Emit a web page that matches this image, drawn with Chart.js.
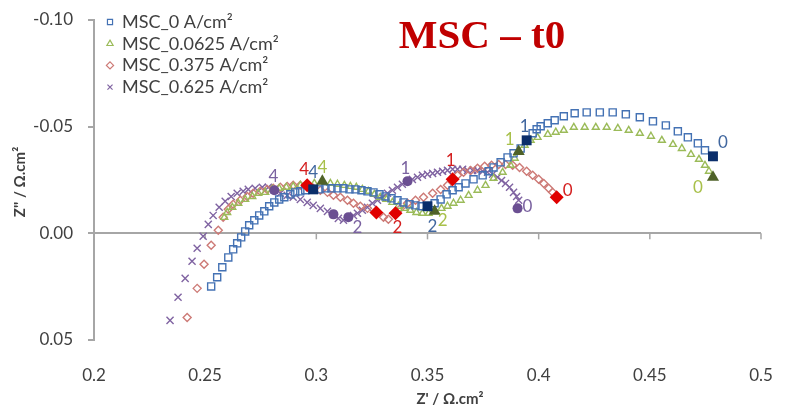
<!DOCTYPE html>
<html>
<head>
<meta charset="utf-8">
<script src="https://cdn.jsdelivr.net/npm/chart.js@4.4.1/dist/chart.umd.min.js"></script>
<style>
  html, body { margin: 0; padding: 0; background: #fff; }
  #wrap { width: 787px; height: 411px; }
</style>
</head>
<body>
<div id="wrap"><canvas id="nyquist"></canvas></div>
<script>
// Impedance spectra, Z' (real) and Z'' (imaginary), Ω.cm²
const seriesNames = ['MSC_0 A/cm²', 'MSC_0.0625 A/cm²', 'MSC_0.375 A/cm²', 'MSC_0.625 A/cm²'];

const zRe0 = [0.2527,0.2554,0.2577,0.2604,0.2626,0.2644,0.2662,0.2680,0.2698,0.2721,0.2743,0.2766,0.2788,0.2811,0.2833,0.2856,0.2883,0.2905,0.2928,0.2950,
  0.2986,0.3014,0.3041,0.3068,0.3095,0.3122,0.3149,0.3176,0.3203,0.3230,0.3257,0.3284,0.3311,0.3338,0.3365,0.3392,0.3419,0.3446,0.3473,0.3500,
  0.3532,0.3559,0.3586,0.3613,0.3640,0.3671,0.3707,0.3748,0.3775,0.3797,0.3829,0.3860,0.3887,0.3919,0.3946,
  0.3973,0.3991,0.4009,0.4041,0.4072,0.4113,0.4162,0.4216,0.4275,0.4333,0.4392,0.4455,0.4514,0.4572,0.4626,0.4671,0.4716,0.4748,0.4784];
const zIm0 = [0.0249,0.0206,0.0159,0.0113,0.0075,0.0047,0.0019,-0.0009,-0.0038,-0.0061,-0.0084,-0.0103,-0.0127,-0.0145,-0.0159,-0.0169,-0.0183,-0.0192,-0.0197,-0.0202,
  -0.0206,-0.0206,-0.0211,-0.0211,-0.0211,-0.0211,-0.0206,-0.0206,-0.0202,-0.0197,-0.0192,-0.0183,-0.0173,-0.0164,-0.0155,-0.0145,-0.0136,-0.0131,-0.0127,-0.0127,
  -0.0141,-0.0159,-0.0183,-0.0202,-0.0216,-0.0234,-0.0253,-0.0272,-0.0291,-0.0309,-0.0333,-0.0356,-0.0375,-0.0398,-0.0436,
  -0.0469,-0.0488,-0.0502,-0.0516,-0.0530,-0.0549,-0.0563,-0.0567,-0.0567,-0.0567,-0.0558,-0.0544,-0.0525,-0.0506,-0.0478,-0.0450,-0.0422,-0.0389,-0.0361];

const zRe1 = [0.2586,0.2599,0.2622,0.2649,0.2680,0.2712,0.2739,0.2770,0.2802,0.2833,0.2865,0.2896,0.2928,0.2959,0.2991,0.3027,
  0.3063,0.3095,0.3126,0.3153,0.3180,0.3207,0.3234,0.3261,0.3288,0.3315,0.3342,0.3369,0.3396,0.3423,0.3450,0.3477,0.3505,0.3532,
  0.3563,0.3590,0.3617,0.3649,0.3685,0.3725,0.3761,0.3797,0.3838,0.3874,0.3892,0.3910,
  0.3937,0.3964,0.3995,0.4041,0.4077,0.4113,0.4158,0.4207,0.4257,0.4306,0.4356,0.4405,0.4455,0.4505,0.4554,0.4604,0.4644,0.4685,0.4721,0.4748,0.4766,0.4784];
const zIm1 = [-0.0075,-0.0098,-0.0122,-0.0141,-0.0159,-0.0173,-0.0188,-0.0192,-0.0206,-0.0211,-0.0216,-0.0220,-0.0225,-0.0230,-0.0234,-0.0244,
  -0.0234,-0.0230,-0.0225,-0.0220,-0.0216,-0.0206,-0.0197,-0.0183,-0.0169,-0.0159,-0.0145,-0.0127,-0.0117,-0.0108,-0.0098,-0.0094,-0.0094,-0.0103,
  -0.0117,-0.0127,-0.0141,-0.0155,-0.0178,-0.0202,-0.0225,-0.0258,-0.0286,-0.0319,-0.0352,-0.0384,
  -0.0413,-0.0436,-0.0450,-0.0464,-0.0474,-0.0483,-0.0497,-0.0497,-0.0497,-0.0497,-0.0492,-0.0483,-0.0469,-0.0455,-0.0436,-0.0417,-0.0398,-0.0370,-0.0347,-0.0319,-0.0291,-0.0263];

const zRe2 = [0.2419,0.2464,0.2495,0.2527,0.2559,0.2581,0.2604,0.2626,0.2658,0.2689,0.2716,0.2748,0.2779,0.2806,0.2838,0.2869,0.2896,0.2928,0.2959,
  0.2986,0.3018,0.3050,0.3077,0.3108,0.3140,0.3167,0.3198,0.3230,0.3270,0.3302,0.3324,0.3356,
  0.3378,0.3410,0.3446,0.3482,0.3523,0.3559,0.3590,0.3613,
  0.3635,0.3662,0.3694,0.3725,0.3757,0.3788,0.3820,0.3851,0.3883,0.3914,0.3946,0.3973,0.4000,0.4023,0.4045,0.4063,0.4081];
const zIm2 = [0.0394,0.0258,0.0145,0.0056,-0.0014,-0.0075,-0.0113,-0.0136,-0.0155,-0.0173,-0.0188,-0.0197,-0.0206,-0.0211,-0.0216,-0.0220,-0.0225,-0.0225,-0.0225,
  -0.0211,-0.0202,-0.0192,-0.0178,-0.0169,-0.0155,-0.0141,-0.0127,-0.0117,-0.0098,-0.0075,-0.0066,-0.0094,
  -0.0117,-0.0141,-0.0155,-0.0169,-0.0188,-0.0206,-0.0225,-0.0253,
  -0.0272,-0.0286,-0.0295,-0.0305,-0.0314,-0.0319,-0.0323,-0.0323,-0.0319,-0.0309,-0.0291,-0.0272,-0.0253,-0.0234,-0.0211,-0.0192,-0.0169];

const zRe3 = [0.2342,0.2378,0.2410,0.2441,0.2464,0.2491,0.2514,0.2536,0.2563,0.2590,0.2617,0.2644,0.2671,0.2694,0.2725,0.2757,0.2784,0.2811,
  0.2838,0.2869,0.2896,0.2928,0.2959,0.2986,0.3018,0.3050,0.3077,0.3099,0.3122,0.3144,0.3167,0.3185,0.3207,0.3230,0.3252,0.3275,0.3297,
  0.3320,0.3342,0.3365,0.3387,0.3410,0.3432,0.3455,0.3477,0.3500,0.3523,0.3545,0.3568,0.3590,0.3613,0.3635,
  0.3658,0.3680,0.3703,0.3725,0.3748,0.3770,0.3793,0.3815,0.3833,0.3851,0.3869,0.3887,0.3901,0.3910,0.3905];
const zIm3 = [0.0408,0.0300,0.0211,0.0131,0.0070,0.0014,-0.0042,-0.0084,-0.0122,-0.0150,-0.0173,-0.0188,-0.0197,-0.0206,-0.0211,-0.0216,-0.0216,-0.0202,
  -0.0188,-0.0178,-0.0169,-0.0159,-0.0145,-0.0131,-0.0117,-0.0103,-0.0089,-0.0070,-0.0061,-0.0075,-0.0084,-0.0094,-0.0108,-0.0122,-0.0141,-0.0155,-0.0169,
  -0.0188,-0.0202,-0.0216,-0.0230,-0.0244,-0.0253,-0.0263,-0.0272,-0.0277,-0.0281,-0.0286,-0.0291,-0.0295,-0.0300,-0.0300,
  -0.0300,-0.0295,-0.0295,-0.0295,-0.0291,-0.0286,-0.0277,-0.0263,-0.0248,-0.0234,-0.0216,-0.0192,-0.0173,-0.0155,-0.0117];

// frequency decade markers (log10 f) on each spectrum
const markRe0 = [0.2986, 0.3500, 0.3946, 0.4784];
const markIm0 = [-0.0206, -0.0127, -0.0436, -0.0361];
const markTag0 = ['4', '2', '1', '0'];
const markRe1 = [0.3027, 0.3532, 0.3910, 0.4784];
const markIm1 = [-0.0244, -0.0103, -0.0384, -0.0263];
const markTag1 = ['4', '2', '1', '0'];
const markRe2 = [0.2959, 0.3270, 0.3356, 0.3613, 0.4081];
const markIm2 = [-0.0225, -0.0098, -0.0094, -0.0253, -0.0169];
const markTag2 = ['4', '', '2', '1', '0'];
const markRe3 = [0.2811, 0.3077, 0.3144, 0.3410, 0.3905];
const markIm3 = [-0.0202, -0.0089, -0.0075, -0.0244, -0.0117];
const markTag3 = ['4', '', '2', '1', '0'];

const xTicks = [0.2, 0.25, 0.3, 0.35, 0.4, 0.45, 0.5];
const yTicks = [-0.10, -0.05, 0.00, 0.05];

const zRe = [zRe0, zRe1, zRe2, zRe3];
const zIm = [zIm0, zIm1, zIm2, zIm3];
const markRe = [markRe0, markRe1, markRe2, markRe3];
const markIm = [markIm0, markIm1, markIm2, markIm3];
const markTag = [markTag0, markTag1, markTag2, markTag3];

const FONT = 'Lato, "Open Sans", sans-serif';
const TEXT = '#404040';
const AXIS = '#a6a6a6';

const looks = [
  { style: 'rect',     r: 5,   color: '#4472b4', markStyle: 'rect',     markR: 7, markColor: '#0b2e6b', tagColor: '#41679f',
    tagOff: { '4': [0, -17], '2': [5, 20], '1': [-2, -14], '0': [10, -14] } },
  { style: 'triangle', r: 4,   color: '#9bbb59', markStyle: 'triangle', markR: 7, markColor: '#4f6228', tagColor: '#a8c04a',
    tagOff: { '4': [0, -14], '2': [8, 9], '1': [-9, -12], '0': [-15, 10] } },
  { style: 'rectRot',  r: 4,   color: '#cd7a76', markStyle: 'rectRot',  markR: 7, markColor: '#e00000', tagColor: '#d42020',
    tagOff: { '4': [-3, -16], '2': [2, 14], '1': [-2, -19], '0': [11, -7] } },
  { style: 'crossRot', r: 5,   color: '#8064a2', markStyle: 'circle',   markR: 5, markColor: '#6b4f92', tagColor: '#7a62a0',
    tagOff: { '4': [-1, -14], '2': [9, 10], '1': [-2, -13], '0': [10, -2] } }
];

const datasets = [];
looks.forEach((lk, k) => {
  datasets.push({
    label: seriesNames[k],
    data: zRe[k].map((x, i) => ({ x: x, y: zIm[k][i] })),
    showLine: false,
    pointStyle: lk.style,
    pointRadius: lk.r,
    pointBorderWidth: 1.4,
    pointBorderColor: lk.color,
    pointBackgroundColor: 'rgba(255,255,255,0)',
    order: 10 + k
  });
});
looks.forEach((lk, k) => {
  datasets.push({
    label: seriesNames[k] + ' f',
    data: markRe[k].map((x, i) => ({ x: x, y: markIm[k][i] })),
    tags: markTag[k],
    look: lk,
    showLine: false,
    pointStyle: lk.markStyle,
    pointRadius: lk.markR,
    pointBorderWidth: 0,
    pointBackgroundColor: lk.markColor,
    order: k
  });
});

// scales keep no extra room for overhanging tick labels
function noOverhang(s) {
  s.paddingLeft = 0;
  s.paddingRight = 0;
  s.paddingTop = 0;
  s.paddingBottom = 0;
}

// zero line ticks, legend, titles and decade tags
const decor = {
  id: 'decor',
  beforeDatasetsDraw(chart) {
    const { ctx, scales: { x, y } } = chart;
    const y0 = y.getPixelForValue(0);
    ctx.save();
    ctx.strokeStyle = AXIS;
    ctx.lineWidth = 1.5;
    xTicks.forEach(v => {
      const px = x.getPixelForValue(v);
      ctx.beginPath();
      ctx.moveTo(px, y0);
      ctx.lineTo(px, y0 + 6);
      ctx.stroke();
    });
    ctx.restore();
  },
  afterDatasetsDraw(chart) {
    const ctx = chart.ctx;
    ctx.save();
    ctx.textAlign = 'center';
    ctx.textBaseline = 'middle';
    ctx.font = '17px ' + FONT;
    chart.data.datasets.forEach((ds, di) => {
      if (!ds.tags) return;
      const meta = chart.getDatasetMeta(di);
      ctx.fillStyle = ds.look.tagColor;
      meta.data.forEach((el, i) => {
        const t = ds.tags[i];
        if (!t) return;
        const off = ds.look.tagOff[t];
        ctx.fillText(t, el.x + off[0], el.y + off[1]);
      });
    });
    ctx.restore();
  },
  afterDraw(chart) {
    const ctx = chart.ctx;
    ctx.save();
    // legend
    ctx.font = '18px ' + FONT;
    ctx.textBaseline = 'middle';
    ctx.textAlign = 'left';
    looks.forEach((lk, k) => {
      const yy = 22 + k * 21.7;
      ctx.save();
      ctx.strokeStyle = lk.color;
      ctx.fillStyle = 'rgba(255,255,255,0)';
      ctx.lineWidth = 1.2;
      Chart.helpers.drawPoint(ctx, { pointStyle: lk.style, radius: 3.6, borderWidth: 1.2, rotation: 0 }, 110, yy);
      ctx.restore();
      ctx.fillStyle = TEXT;
      ctx.fillText(seriesNames[k], 122, yy);
    });
    // plot title
    ctx.font = 'bold 41px "Liberation Serif", "Times New Roman", serif';
    ctx.fillStyle = '#c00000';
    ctx.textAlign = 'center';
    ctx.fillText('MSC – t0', 482, 37);
    // axis titles
    ctx.font = 'bold 15px ' + FONT;
    ctx.fillStyle = TEXT;
    ctx.fillText("Z' / Ω.cm²", 450, 399);
    ctx.translate(20, 182);
    ctx.rotate(-Math.PI / 2);
    ctx.fillText("Z'' / Ω.cm²", 0, 0);
    ctx.restore();
  }
};

new Chart(document.getElementById('nyquist'), {
  type: 'scatter',
  data: { datasets: datasets },
  options: {
    responsive: true,
    maintainAspectRatio: false,
    animation: false,
    layout: { autoPadding: false, padding: { left: 0, top: 20, right: 26, bottom: 0 } },
    plugins: {
      legend: { display: false },
      tooltip: { enabled: false }
    },
    scales: {
      x: {
        type: 'linear',
        min: 0.2,
        max: 0.5,
        afterBuildTicks: s => { s.ticks = xTicks.map(v => ({ value: v })); },
        afterFit: s => { s.height = 71; noOverhang(s); },
        ticks: {
          padding: 25,
          color: TEXT,
          font: { family: FONT, size: 17 },
          callback: v => String(+v.toFixed(2))
        },
        grid: { display: false, drawTicks: false },
        border: { display: false }
      },
      y: {
        type: 'linear',
        reverse: true,
        min: -0.10,
        max: 0.05,
        afterBuildTicks: s => { s.ticks = yTicks.map(v => ({ value: v })); },
        afterFit: s => { s.width = 94; noOverhang(s); },
        ticks: {
          padding: 15,
          color: TEXT,
          font: { family: FONT, size: 17 },
          callback: v => v.toFixed(2)
        },
        grid: {
          color: c => (c.tick && Math.abs(c.tick.value) < 1e-9) ? AXIS : 'rgba(0,0,0,0)',
          tickColor: AXIS,
          tickLength: 6,
          lineWidth: 2
        },
        border: { color: AXIS, width: 2 }
      }
    }
  },
  plugins: [decor]
});
</script>
</body>
</html>
